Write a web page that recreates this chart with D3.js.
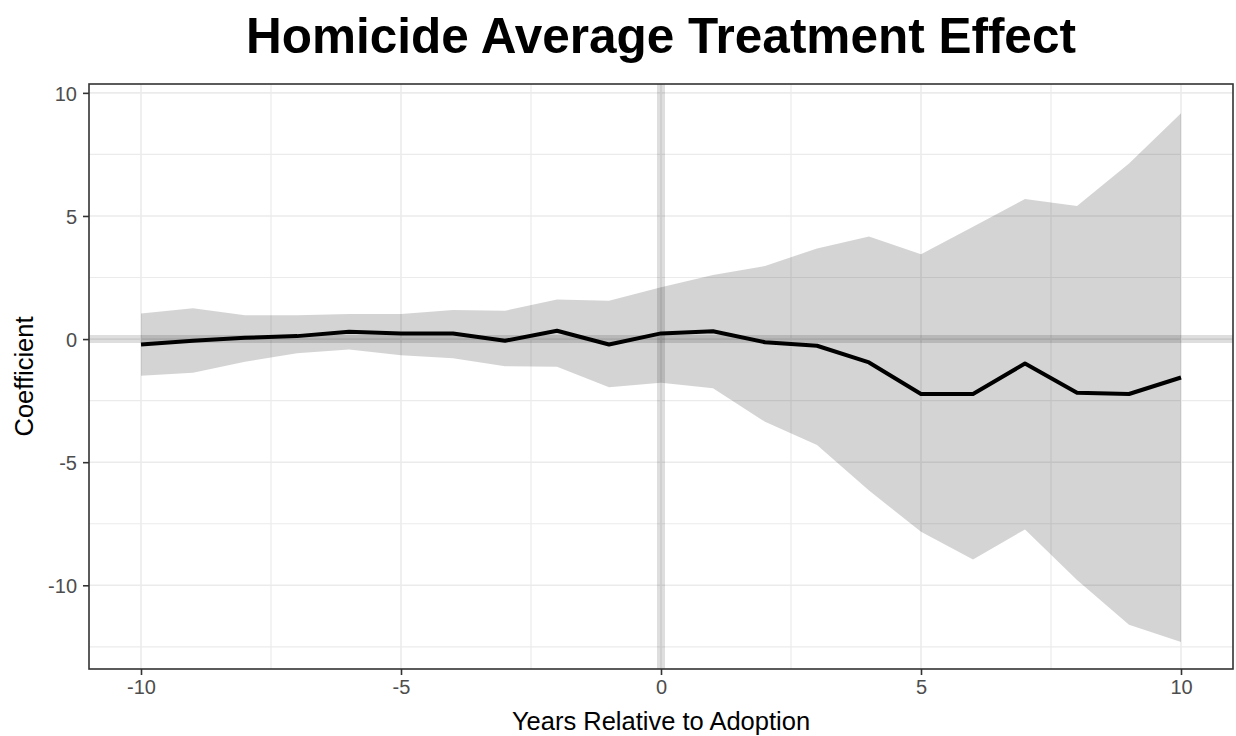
<!DOCTYPE html>
<html>
<head>
<meta charset="utf-8">
<script src="https://cdn.jsdelivr.net/npm/d3@7"></script>
<style>
  html, body { margin: 0; padding: 0; background: #fff; }
  svg { display: block; font-family: "Liberation Sans", Arial, sans-serif; }
</style>
</head>
<body>
<svg id="chart" width="1236" height="736"></svg>
<script>
const years = [-10,-9,-8,-7,-6,-5,-4,-3,-2,-1,0,1,2,3,4,5,6,7,8,9,10];
const coef  = [-0.22,-0.07,0.05,0.12,0.30,0.23,0.23,-0.07,0.34,-0.22,0.23,0.32,-0.13,-0.27,-0.95,-2.23,-2.23,-0.99,-2.18,-2.23,-1.56];
const upper = [1.04,1.25,0.97,0.97,1.02,1.02,1.18,1.15,1.61,1.56,2.10,2.60,2.97,3.68,4.17,3.45,4.56,5.69,5.40,7.13,9.17];
const lower = [-1.49,-1.37,-0.92,-0.58,-0.42,-0.66,-0.78,-1.10,-1.12,-1.96,-1.77,-2.00,-3.36,-4.30,-6.15,-7.83,-8.95,-7.73,-9.79,-11.60,-12.30];
const xTicks = [-10,-5,0,5,10];
const yTicks = [-10,-5,0,5,10];
const xMinor = [-7.5,-2.5,2.5,7.5];
const yMinor = [-12.5,-7.5,-2.5,2.5,7.5];
const titleText = "Homicide Average Treatment Effect";
const xTitle = "Years Relative to Adoption";
const yTitle = "Coefficient";

const data = years.map((t,i)=>({t, c: coef[i], lo: lower[i], hi: upper[i]}));

const svg = d3.select("#chart");
const L = 89, R = 1233, T = 84, B = 669;
const x = d3.scaleLinear().domain([-11, 11]).range([L, R]);
const y = d3.scaleLinear().domain([-13.4, 10.36]).range([B, T]);

svg.append("rect").attr("x", L).attr("y", T).attr("width", R-L).attr("height", B-T).attr("fill", "#fff");

const grid = svg.append("g");
grid.selectAll(".xm").data(xMinor).enter().append("line")
  .attr("x1", d=>x(d)).attr("x2", d=>x(d)).attr("y1", T).attr("y2", B)
  .attr("stroke", "#ebebeb").attr("stroke-width", 1.2);
grid.selectAll(".ym").data(yMinor).enter().append("line")
  .attr("y1", d=>y(d)).attr("y2", d=>y(d)).attr("x1", L).attr("x2", R)
  .attr("stroke", "#ebebeb").attr("stroke-width", 1.2);
grid.selectAll(".xM").data(xTicks).enter().append("line")
  .attr("x1", d=>x(d)).attr("x2", d=>x(d)).attr("y1", T).attr("y2", B)
  .attr("stroke", "#ebebeb").attr("stroke-width", 1.6);
grid.selectAll(".yM").data(yTicks).enter().append("line")
  .attr("y1", d=>y(d)).attr("y2", d=>y(d)).attr("x1", L).attr("x2", R)
  .attr("stroke", "#ebebeb").attr("stroke-width", 1.6);

const area = d3.area().x(d=>x(d.t)).y0(d=>y(d.lo)).y1(d=>y(d.hi));
svg.append("path").datum(data).attr("d", area).attr("fill", "rgba(0,0,0,0.17)");

svg.append("line").attr("x1", L).attr("x2", R).attr("y1", y(0)).attr("y2", y(0))
  .attr("stroke", "rgba(0,0,0,0.13)").attr("stroke-width", 8);
svg.append("line").attr("x1", x(0)).attr("x2", x(0)).attr("y1", T).attr("y2", B)
  .attr("stroke", "rgba(0,0,0,0.13)").attr("stroke-width", 8);

const line = d3.line().x(d=>x(d.t)).y(d=>y(d.c));
svg.append("path").datum(data).attr("d", line).attr("fill", "none")
  .attr("stroke", "#000").attr("stroke-width", 4).attr("stroke-linejoin", "round");

svg.append("rect").attr("x", L).attr("y", T).attr("width", R-L).attr("height", B-T)
  .attr("fill", "none").attr("stroke", "#333").attr("stroke-width", 1.6);

const fmt = d => String(d);
const xAxis = svg.append("g").attr("transform", `translate(0,${B})`)
  .call(d3.axisBottom(x).tickValues(xTicks).tickSize(6).tickPadding(5).tickFormat(fmt));
const yAxis = svg.append("g").attr("transform", `translate(${L},0)`)
  .call(d3.axisLeft(y).tickValues(yTicks).tickSize(6).tickPadding(6).tickFormat(fmt));
[xAxis, yAxis].forEach(a => {
  a.select(".domain").remove();
  a.selectAll(".tick line").attr("stroke", "#333").attr("stroke-width", 1.6);
  a.selectAll(".tick text").attr("fill", "#4d4d4d").style("font-size", "20px")
    .style("font-family", "'Liberation Sans', Arial, sans-serif");
});
yAxis.selectAll(".tick text").attr("dy", "0.36em");

svg.append("text").attr("x", (L+R)/2).attr("y", 53).attr("text-anchor", "middle")
  .style("font-size", "49.5px").style("font-weight", "bold").attr("fill", "#000").text(titleText);
svg.append("text").attr("x", (L+R)/2).attr("y", 730).attr("text-anchor", "middle")
  .style("font-size", "25.5px").attr("fill", "#000").text(xTitle);
svg.append("text").attr("transform", `translate(33,${(T+B)/2}) rotate(-90)`).attr("text-anchor", "middle")
  .style("font-size", "25.5px").attr("fill", "#000").text(yTitle);
</script>
</body>
</html>
